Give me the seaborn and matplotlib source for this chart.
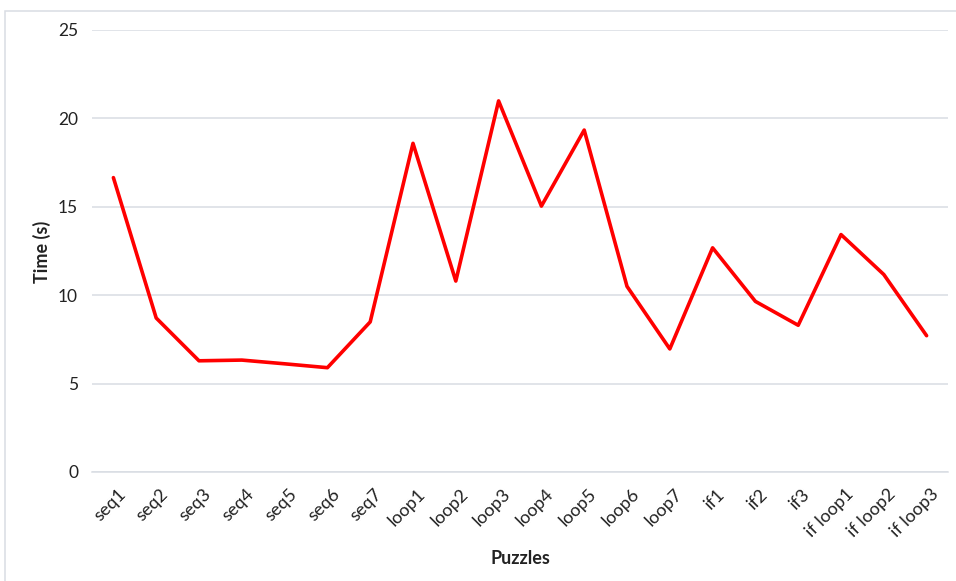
import matplotlib
matplotlib.use("Agg")
import matplotlib.pyplot as plt
from matplotlib.patches import Rectangle
import seaborn as sns
import pandas as pd
import numpy as np

puzzles = ["seq1", "seq2", "seq3", "seq4", "seq5", "seq6", "seq7",
           "loop1", "loop2", "loop3", "loop4", "loop5", "loop6", "loop7",
           "if1", "if2", "if3", "if loop1", "if loop2", "if loop3"]
times = [16.65, 8.71, 6.29, 6.33, 6.12, 5.90, 8.49,
         18.59, 10.80, 20.99, 15.04, 19.34, 10.50, 6.96,
         12.68, 9.65, 8.30, 13.43, 11.17, 7.71]
y_ticks = [0, 5, 10, 15, 20, 25]

df = pd.DataFrame({"Puzzles": puzzles, "Time (s)": times})

sns.set_style("white")
plt.rcParams["font.family"] = ["Lato", "DejaVu Sans"]

W, H = 956, 581
fig = plt.figure(figsize=(W / 100, H / 100), dpi=100)
ax = fig.add_axes([92 / W, 1 - 472 / H, (948 - 92) / W, (472 - 30) / H])

x = np.arange(len(puzzles))
df["pos"] = x
sns.lineplot(data=df, x="pos", y="Time (s)", ax=ax, color="#FF0000",
             linewidth=2.6, sort=False, zorder=3)

grid_c = "#D9DDE3"
ax.set_xlim(-0.5, len(puzzles) - 0.5)
ax.set_ylim(0, 25)
ax.set_yticks(y_ticks)
ax.set_yticklabels([str(t) for t in y_ticks], fontsize=12.5, color="#222222")
ax.yaxis.grid(True, color=grid_c, linewidth=1.1)
ax.tick_params(axis="y", length=0, pad=10)

ax.set_xticks(x)
ax.set_xticklabels(puzzles, rotation=45, ha="right", rotation_mode="anchor",
                   fontsize=13, color="#222222")
ax.tick_params(axis="x", which="major", length=0, pad=10)
ax.set_xticks(np.arange(len(puzzles) + 1) - 0.5, minor=True)
ax.tick_params(axis="x", which="minor", length=5, width=1.1, color=grid_c)
for lbl in ax.get_xticklabels():
    lbl.set_transform(lbl.get_transform() +
                      matplotlib.transforms.ScaledTranslation(4 / 100, 0, fig.dpi_scale_trans))

for s in ["top", "right", "left"]:
    ax.spines[s].set_visible(False)
ax.spines["bottom"].set_color(grid_c)
ax.spines["bottom"].set_linewidth(1.1)

ax.set_xlabel("")
ax.set_ylabel("")
fig.text(520 / W, 1 - 558 / H, "Puzzles", ha="center", va="center",
         fontsize=13, fontweight="bold", color="#222222")
fig.text(42 / W, 1 - 252 / H, "Time (s)", ha="center", va="center",
         rotation=90, fontsize=13, fontweight="bold", color="#222222")

# chart-area border
fig.patches.append(Rectangle((5 / W, -0.1), 1.2, 1.1 - 11 / H, transform=fig.transFigure,
                             fill=False, edgecolor="#D9DDE3", linewidth=1.1))

fig.savefig("out.png", dpi=100)
